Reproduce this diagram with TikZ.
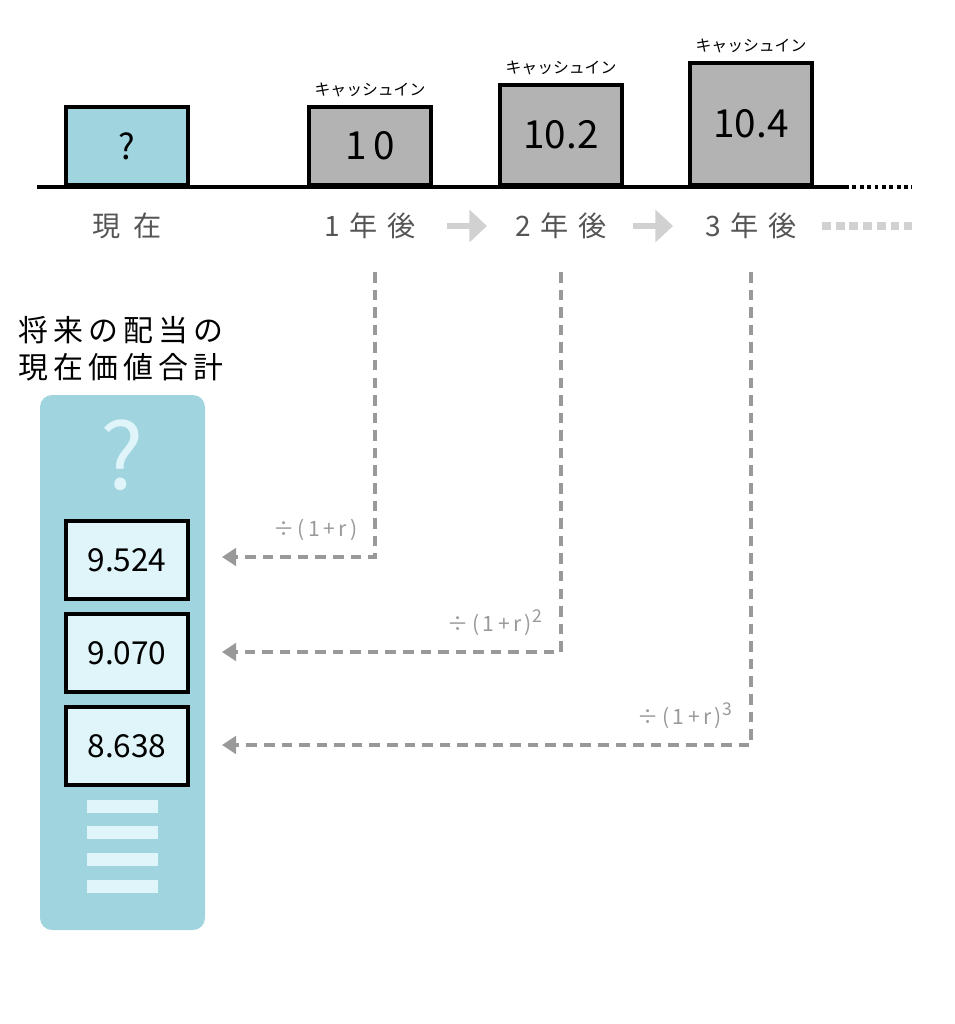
\documentclass[tikz,border=0pt]{standalone}
\usepackage{fontspec}
\setmainfont{Noto Sans CJK JP}
\usetikzlibrary{positioning,arrows.meta}
\definecolor{teal1}{HTML}{A0D5E0}
\definecolor{pale}{HTML}{E0F5FA}
\definecolor{cash}{HTML}{B3B3B3}
\definecolor{txtgray}{HTML}{555555}
\definecolor{dgray}{HTML}{999999}
\tikzset{
  bar/.style={draw=black,line width=1.1pt,minimum width=1.22cm,anchor=south,inner sep=0pt},
  pv/.style={draw=black,line width=1.1pt,fill=pale,minimum width=1.22cm,minimum height=0.78cm,inner sep=0pt,font=\fontsize{9}{9}\selectfont},
  yr/.style={text=txtgray,font=\fontsize{8}{8}\selectfont},
  ci/.style={font=\fontsize{4.5}{5}\selectfont,anchor=south},
  nextyr/.style={line width=1.7pt,black!18,-{Triangle[width=9pt,length=5pt]}},
  disc/.style={dgray,densely dashed,line width=0.9pt,-{Triangle[width=5pt,length=4pt]}},
  rate/.style={text=dgray,font=\fontsize{6}{6}\selectfont,anchor=south east}
}
\begin{document}
\begin{tikzpicture}[x=0.01cm,y=-0.01cm]
	\useasboundingbox (0,0) rectangle (954,1024);
	% axis
	\coordinate (a0) at (37,187);
	\coordinate (a1) at (845,187);
	\coordinate (a2) at (912,187);
	\draw[line width=1.1pt] (a0) -- (a1);
	\draw[line width=1.1pt,densely dotted] (a1) -- (a2);
	% cash in bars
	\node[bar,fill=teal1,minimum height=0.78cm,font=\fontsize{10}{10}\selectfont] (now) at (127,187) {?};
	\node[bar,fill=cash,minimum height=0.78cm,font=\fontsize{11}{11}\selectfont] (y1) at (370,187) {1\,0};
	\node[bar,fill=cash,minimum height=1.00cm,font=\fontsize{11}{11}\selectfont] (y2) at (561,187) {10.2};
	\node[bar,fill=cash,minimum height=1.22cm,font=\fontsize{11}{11}\selectfont] (y3) at (751,187) {10.4};
	\foreach \b in {y1,y2,y3}
		\node[ci] (c\b) at ([yshift=-0.04cm]\b.north) {キャッシュイン};
	% years
	\node[yr] (tnow) at (127,226) {現\ \ 在};
	\node[yr] (t1) at (370,226) {1\,\,年\,\,後};
	\node[yr] (t2) at (561,226) {2\,\,年\,\,後};
	\node[yr] (t3) at (751,226) {3\,\,年\,\,後};
	\coordinate (s1a) at (447,226); \coordinate (s1b) at (487,226);
	\coordinate (s2a) at (633,226); \coordinate (s2b) at (673,226);
	\draw[nextyr] (s1a) -- (s1b);
	\draw[nextyr] (s2a) -- (s2b);
	\draw[line width=2.5pt,black!18,dash pattern=on 2.5pt off 1.4pt] (822,226) coordinate (d0) -- (912,226) coordinate (d1);
	% present value panel
	\node[align=left,font=\fontsize{8.5}{10.5}\selectfont,anchor=north west,inner sep=0pt] (title) at (18,316) {将\,来\,の\,配\,当\,の\\現\,在\,価\,値\,合\,計};
	\fill[teal1,rounded corners=0.12cm] (40,395) rectangle (205,930);
	\node[text=pale,font=\fontsize{26}{26}\selectfont] (q) at (122,455) {?};
	\node[pv] (p1) at (127,560) {9.524};
	\node[pv] (p2) at (127,653) {9.070};
	\node[pv] (p3) at (127,746) {8.638};
	\foreach \y in {806,832,859,886}
		\fill[pale] (87,\y-6) rectangle (158,\y+7);
	% discounting
	\coordinate (s1) at (375,272); \coordinate (e1) at (222,557);
	\coordinate (s2) at (561,272); \coordinate (e2) at (222,652);
	\coordinate (s3) at (751,272); \coordinate (e3) at (222,745);
	\draw[disc] (s1) |- (e1);
	\draw[disc] (s2) |- (e2);
	\draw[disc] (s3) |- (e3);
	\node[rate] (r1) at (370,553) {÷\,(\,1\,+\,r\,)};
	\node[rate] (r2) at (556,648) {÷\,(\,1\,+\,r\,)\textsuperscript{2}};
	\node[rate] (r3) at (746,741) {÷\,(\,1\,+\,r\,)\textsuperscript{3}};
\end{tikzpicture}
\end{document}
